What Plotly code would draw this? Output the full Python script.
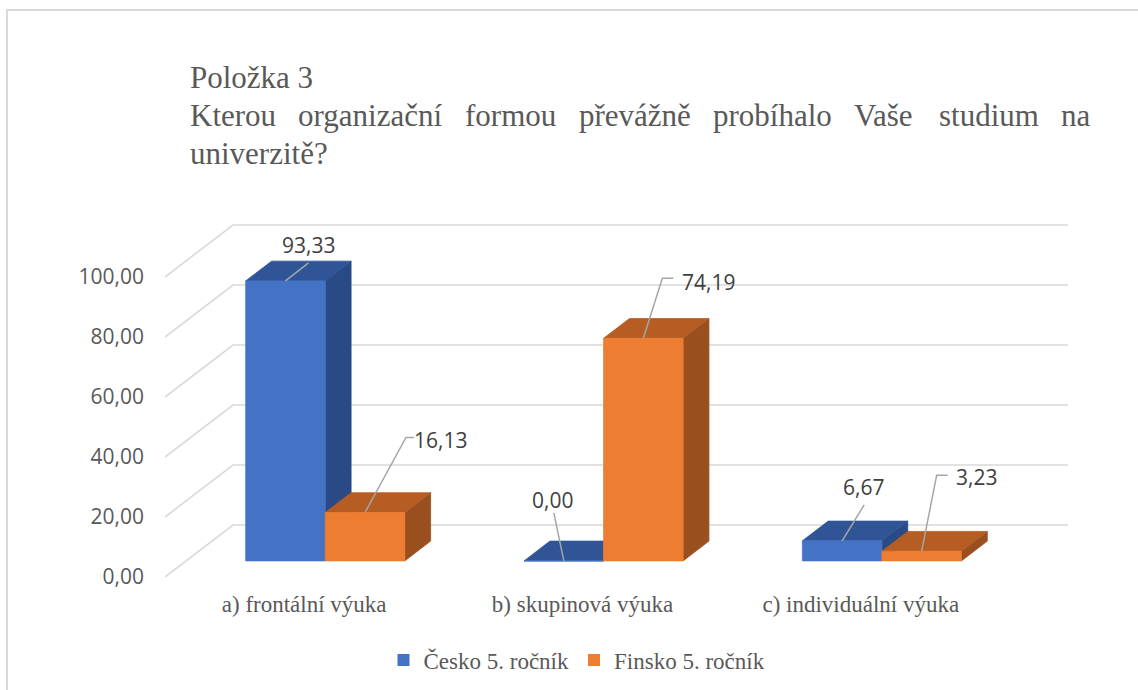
import plotly.graph_objects as go

# ---------------- data ----------------
categories = ["a) frontální výuka", "b) skupinová výuka", "c) individuální výuka"]
series_names = ["Česko 5. ročník", "Finsko 5. ročník"]
cesko = [93.33, 0.00, 6.67]
finsko = [16.13, 74.19, 3.23]
y_ticks = [0, 20, 40, 60, 80, 100]
title_line1 = "Položka 3"
title_line2 = "Kterou organizační formou převážně probíhalo Vaše studium na"
title_line3 = "univerzitě?"

# ---------------- layout / style constants ----------------
W, H = 1138, 690
ML, MR, MT, MB = 165, 66, 200, 113
PW = W - ML - MR
PH = H - MT - MB
SX = 835 / 3.0          # px per category (front plane)
SY = 3.0                # px per value unit
XMAX = PW / SX
YMAX = PH / SY
DX = 68 / SX            # 3D depth shift in x (category units)
DY = 52 / SY            # 3D depth shift in y (value units)
TF, TB = 0.31, 0.69     # bar front / back depth fractions
GAP = 1.5
BW = 1.0 / (2 + GAP)

FRONT = ["#4472C4", "#ED7D31"]
TOP = ["#2F5597", "#B55D22"]
SIDE = ["#294A85", "#9A4F1E"]
GRID = "#D9D9D9"
TXT = "#595959"
LBL = "#404040"
SERIF = "Liberation Serif"
SANS = "Open Sans"
TITLE_SIZE = 31

# data label offsets in px relative to bar front-top centre (text centre, leader points)
LABEL_TEXT_OFF = [[(23, -36), (-11, -61), (21, -54)],
                  [(75, -72), (65, -56), (55, -74)]]
LEADER_PTS = [[[(23, -18)], [(-10, -48)], [(22, -36)]],
              [[(41, -75), (49, -75)], [(19, -60), (30, -60)], [(15, -76), (26, -76)]]]
TITLE_LEFT, TITLE_RIGHT = 188, 1088

# approximate Times/Liberation Serif advance widths (em) used to justify title line 2
CHAR_W = {"K": .722, "V": .722, "t": .278, "e": .444, "ě": .444, "r": .333, "ř": .333,
          "o": .5, "u": .5, "g": .5, "a": .444, "á": .444, "n": .5, "i": .278, "í": .278,
          "z": .444, "ž": .444, "č": .444, "f": .333, "m": .778, "p": .5, "v": .5,
          "b": .5, "h": .5, "l": .278, "š": .389, "s": .389, "d": .5}


def pxx(px):
    return (px - ML) / PW


def pxy(py):
    return (H - MB - py) / PH


fig = go.Figure()

# 3D gridlines (left wall diagonal + back wall horizontal)
gx, gy = [], []
for v in y_ticks:
    gx += [0, DX, 3 + DX, None]
    gy += [v, v + DY, v + DY, None]
fig.add_trace(go.Scatter(x=gx, y=gy, mode="lines", line=dict(color=GRID, width=1.6),
                         showlegend=False, hoverinfo="skip"))


def face(xs, ys, color):
    fig.add_trace(go.Scatter(x=xs + [xs[0]], y=ys + [ys[0]], fill="toself", fillcolor=color,
                             mode="lines", line=dict(color=color, width=0.8),
                             showlegend=False, hoverinfo="skip"))


values = [cesko, finsko]
for k in range(len(categories)):
    for s in range(len(values)):
        v = values[s][k]
        x0 = k + (1 - 2 * BW) / 2 + s * BW
        x1 = x0 + BW
        fx, fy = TF * DX, TF * DY
        bx, by = TB * DX, TB * DY
        face([x1 + fx, x1 + bx, x1 + bx, x1 + fx], [fy, by, v + by, v + fy], SIDE[s])
        face([x0 + fx, x1 + fx, x1 + bx, x0 + bx], [v + fy, v + fy, v + by, v + by], TOP[s])
        face([x0 + fx, x1 + fx, x1 + fx, x0 + fx], [fy, fy, v + fy, v + fy], FRONT[s])

# leader lines + data labels
lx, ly = [], []
annotations = []
for s in range(len(values)):
    for k in range(len(categories)):
        v = values[s][k]
        ax = k + (1 - 2 * BW) / 2 + s * BW + BW / 2 + TF * DX
        ay = v + TF * DY
        lx.append(ax)
        ly.append(ay)
        for (dx, dy) in LEADER_PTS[s][k]:
            lx.append(ax + dx / SX)
            ly.append(ay - dy / SY)
        lx.append(None)
        ly.append(None)
        tdx, tdy = LABEL_TEXT_OFF[s][k]
        annotations.append(dict(x=ax + tdx / SX, y=ay - tdy / SY, xref="x", yref="y",
                                text=f"{v:.2f}".replace(".", ","), showarrow=False,
                                font=dict(family=SANS, size=21, color=LBL),
                                xanchor="center", yanchor="middle"))
fig.add_trace(go.Scatter(x=lx, y=ly, mode="lines", line=dict(color="#A6A6A6", width=1.5),
                         showlegend=False, hoverinfo="skip"))

# legend entries
for s in range(len(series_names)):
    fig.add_trace(go.Scatter(x=[None], y=[None], mode="markers", name=series_names[s],
                             marker=dict(symbol="square", size=12, color=FRONT[s])))

# title (line 2 justified like the original)
tfont = dict(family=SERIF, size=TITLE_SIZE, color=TXT)
annotations.append(dict(x=pxx(TITLE_LEFT), y=pxy(78), xref="paper", yref="paper",
                        text=title_line1, showarrow=False, font=tfont,
                        xanchor="left", yanchor="middle"))
words = title_line2.split(" ")
widths = [sum(CHAR_W.get(c, .5) for c in w) * TITLE_SIZE for w in words]
gap = (TITLE_RIGHT - TITLE_LEFT - sum(widths)) / (len(words) - 1)
cx = TITLE_LEFT
for word, wd in zip(words, widths):
    annotations.append(dict(x=pxx(cx), y=pxy(116), xref="paper", yref="paper",
                            text=word, showarrow=False, font=tfont,
                            xanchor="left", yanchor="middle"))
    cx += wd + gap
annotations.append(dict(x=pxx(TITLE_LEFT), y=pxy(153), xref="paper", yref="paper",
                        text=title_line3, showarrow=False, font=tfont,
                        xanchor="left", yanchor="middle"))

fig.update_layout(
    width=W, height=H,
    margin=dict(l=ML, r=MR, t=MT, b=MB),
    paper_bgcolor="white", plot_bgcolor="white",
    annotations=annotations,
    showlegend=True,
    legend=dict(orientation="h", xref="container", yref="container",
                x=577 / W, y=1 - 660 / H, xanchor="center", yanchor="middle",
                font=dict(family=SERIF, size=23, color=TXT), itemwidth=30),
    xaxis=dict(range=[0, XMAX], showgrid=False, zeroline=False, showline=False,
               tickvals=[k + 0.5 for k in range(len(categories))], ticktext=categories,
               tickfont=dict(family=SERIF, size=23, color=TXT), ticks="",
               ticklabelstandoff=11, fixedrange=True),
    yaxis=dict(range=[0, YMAX], showgrid=False, zeroline=False, showline=False,
               tickvals=y_ticks, ticktext=[f"{t:.2f}".replace(".", ",") for t in y_ticks],
               tickfont=dict(family=SANS, size=21, color=TXT), ticks="",
               ticklabelstandoff=20, fixedrange=True),
    shapes=[dict(type="rect", xref="paper", yref="paper",
                 x0=pxx(7), y0=pxy(10), x1=pxx(W + 20), y1=pxy(H + 20),
                 line=dict(color=GRID, width=2), fillcolor="rgba(0,0,0,0)")],
)

fig.write_html("out.html", config={"displayModeBar": False},
               post_script="document.body.style.margin='0px';")
